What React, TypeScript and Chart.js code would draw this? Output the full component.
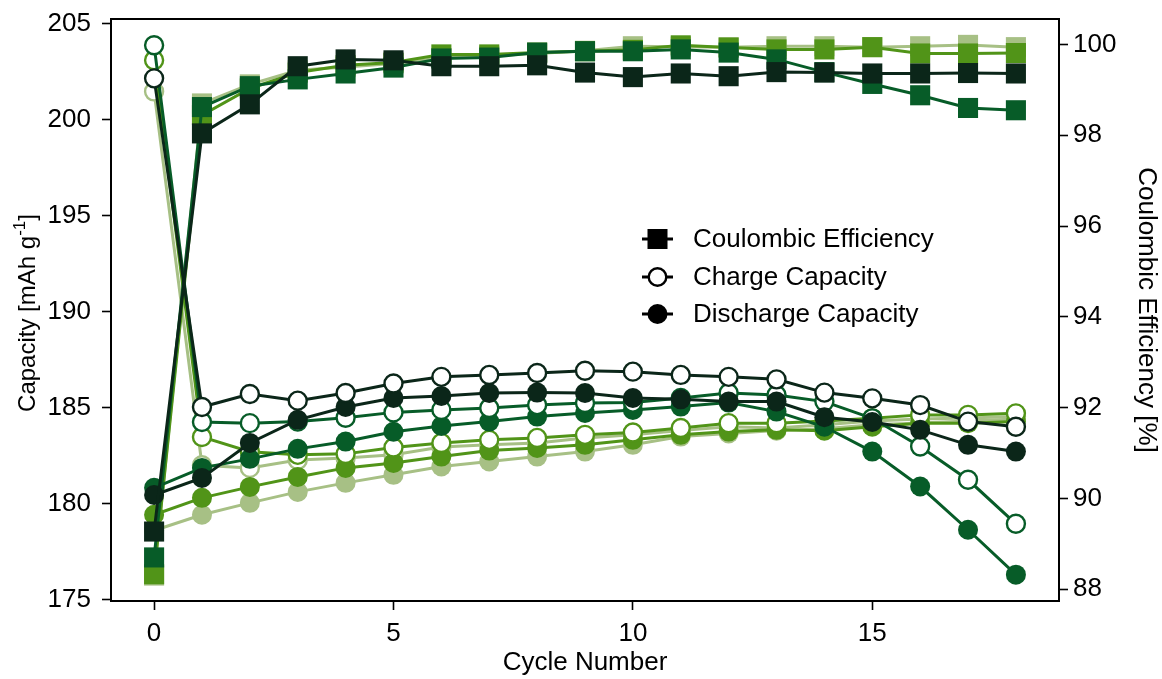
import React, { useEffect, useRef } from 'react';
import { Chart, registerables } from 'chart.js';

Chart.register(...registerables);

const cycles = [0, 1, 2, 3, 4, 5, 6, 7, 8, 9, 10, 11, 12, 13, 14, 15, 16, 17, 18];
const xTicks = [0, 5, 10, 15];
const capTicks = [175, 180, 185, 190, 195, 200, 205];
const ceTicks = [88, 90, 92, 94, 96, 98, 100];

const seriesColors = ['#a7c085', '#519418', '#075c28', '#0b2619'];

// Coulombic efficiency [%]
const ceLight = [88.3, 98.7, 99.12, 99.43, 99.5, 99.58, 99.7, 99.75, 99.8, 99.86, 99.96, 99.95, 99.94, 99.96, 99.96, 99.94, 99.96, 99.99, 99.94];
const ceMedium = [88.33, 98.44, 99.03, 99.38, 99.54, 99.6, 99.78, 99.78, 99.82, 99.85, 99.88, 99.98, 99.93, 99.89, 99.89, 99.94, 99.8, 99.8, 99.81];
const ceDark = [88.7, 98.62, 99.08, 99.23, 99.36, 99.49, 99.69, 99.71, 99.82, 99.85, 99.85, 99.89, 99.82, 99.67, 99.39, 99.13, 98.88, 98.6, 98.55];
const ceDarkest = [89.27, 98.04, 98.68, 99.52, 99.67, 99.65, 99.52, 99.52, 99.54, 99.38, 99.28, 99.36, 99.3, 99.39, 99.38, 99.36, 99.36, 99.37, 99.36];

// Charge capacity [mAh/g]
const chLight = [201.46, 182.0, 181.86, 182.27, 182.38, 182.54, 182.95, 183.06, 183.16, 183.42, 183.58, 183.8, 184.0, 183.94, 184.1, 184.3, 184.4, 184.46, 184.53];
const chMedium = [203.08, 183.47, 182.7, 182.54, 182.59, 182.92, 183.16, 183.32, 183.42, 183.58, 183.7, 183.94, 184.19, 184.19, 184.3, 184.44, 184.62, 184.62, 184.7];
const chDark = [203.86, 184.25, 184.19, 184.27, 184.47, 184.75, 184.88, 184.98, 185.13, 185.24, 185.26, 185.5, 185.76, 185.66, 185.31, 184.44, 182.97, 181.24, 178.95];
const chDarkest = [202.14, 185.03, 185.71, 185.36, 185.76, 186.25, 186.6, 186.7, 186.8, 186.92, 186.87, 186.7, 186.6, 186.47, 185.78, 185.48, 185.13, 184.27, 184.0];

// Discharge capacity [mAh/g]
const dcLight = [178.6, 179.42, 180.04, 180.61, 181.08, 181.5, 181.93, 182.19, 182.45, 182.71, 183.06, 183.49, 183.65, 183.8, 183.9, 184.1, 184.2, 184.3, 184.4];
const dcMedium = [179.42, 180.3, 180.87, 181.39, 181.86, 182.12, 182.45, 182.76, 182.9, 183.06, 183.32, 183.58, 183.75, 183.84, 183.8, 184.0, 184.19, 184.19, 184.27];
const dcDark = [180.82, 181.86, 182.33, 182.85, 183.23, 183.74, 184.04, 184.27, 184.53, 184.72, 184.88, 185.05, 185.26, 184.79, 184.0, 182.71, 180.89, 178.64, 176.3];
const dcDarkest = [180.45, 181.34, 183.16, 184.36, 185.03, 185.5, 185.6, 185.76, 185.78, 185.76, 185.5, 185.43, 185.31, 185.31, 184.5, 184.25, 183.84, 183.06, 182.71];

const legendLabels = ['Coulombic Efficiency', 'Charge Capacity', 'Discharge Capacity'];
const yTitleMain = 'Capacity [mAh g';
const yTitleSup = '-1';
const yTitleEnd = ']';

const FONT = '"Liberation Sans", Arial, Helvetica, sans-serif';
const FS = 26;
const YT_FS = 24;

const toPts = (vals: number[]) => cycles.map((c, i) => ({ x: c, y: vals[i] }));

function makeSets() {
  const ce = [ceLight, ceMedium, ceDark, ceDarkest];
  const ch = [chLight, chMedium, chDark, chDarkest];
  const dc = [dcLight, dcMedium, dcDark, dcDarkest];
  const sets: any[] = [];
  for (let k = 0; k < 4; k++) {
    const col = seriesColors[k];
    const order = 3 - k;
    sets.push({
      label: 'CE ' + k, data: toPts(ce[k]), yAxisID: 'y2', order,
      borderColor: col, backgroundColor: col, borderWidth: 3,
      pointStyle: 'rect', pointRadius: 14.2, pointBorderWidth: 0,
      pointBackgroundColor: col, pointBorderColor: col,
    });
    sets.push({
      label: 'Charge ' + k, data: toPts(ch[k]), yAxisID: 'y', order,
      borderColor: col, backgroundColor: '#ffffff', borderWidth: 3,
      pointStyle: 'circle', pointRadius: 9, pointBorderWidth: 2.4,
      pointBackgroundColor: '#ffffff', pointBorderColor: col,
    });
    sets.push({
      label: 'Discharge ' + k, data: toPts(dc[k]), yAxisID: 'y', order,
      borderColor: col, backgroundColor: col, borderWidth: 3,
      pointStyle: 'circle', pointRadius: 10, pointBorderWidth: 0,
      pointBackgroundColor: col, pointBorderColor: col,
    });
  }
  return sets;
}

const framePlugin = {
  id: 'frameAndLegend',
  afterDraw(chart: any) {
    const { ctx, chartArea } = chart;
    const { left, top, right, bottom } = chartArea;
    ctx.save();
    ctx.strokeStyle = '#000';
    ctx.lineWidth = 2;
    ctx.strokeRect(left, top, right - left, bottom - top);

    // legend
    const rowsY = [239, 277, 314];
    const hx0 = 642, hx1 = 673, hm = 657.5;
    ctx.font = `${FS}px ${FONT}`;
    ctx.textBaseline = 'middle';
    ctx.textAlign = 'left';
    rowsY.forEach((ry, i) => {
      ctx.strokeStyle = '#000';
      ctx.lineWidth = 3;
      ctx.beginPath();
      ctx.moveTo(hx0, ry);
      ctx.lineTo(hx1, ry);
      ctx.stroke();
      if (i === 0) {
        ctx.fillStyle = '#000';
        ctx.fillRect(hm - 10, ry - 10, 20, 20);
      } else if (i === 1) {
        ctx.fillStyle = '#fff';
        ctx.beginPath();
        ctx.arc(hm, ry, 8.8, 0, Math.PI * 2);
        ctx.fill();
        ctx.lineWidth = 2.4;
        ctx.stroke();
      } else {
        ctx.fillStyle = '#000';
        ctx.beginPath();
        ctx.arc(hm, ry, 10, 0, Math.PI * 2);
        ctx.fill();
      }
      ctx.fillStyle = '#000';
      ctx.fillText(legendLabels[i], 693, ry + 1);
    });

    // left axis title with superscript
    const mainFont = `${YT_FS}px ${FONT}`;
    const supFont = `${Math.round(YT_FS * 0.7)}px ${FONT}`;
    ctx.font = mainFont;
    const w1 = ctx.measureText(yTitleMain).width;
    const w3 = ctx.measureText(yTitleEnd).width;
    ctx.font = supFont;
    const w2 = ctx.measureText(yTitleSup).width;
    const total = w1 + w2 + w3;
    ctx.translate(35, 313);
    ctx.rotate(-Math.PI / 2);
    ctx.textBaseline = 'alphabetic';
    ctx.textAlign = 'left';
    ctx.fillStyle = '#000';
    let cx = -total / 2;
    ctx.font = mainFont;
    ctx.fillText(yTitleMain, cx, 0);
    cx += w1;
    ctx.font = supFont;
    ctx.fillText(yTitleSup, cx, -YT_FS * 0.42);
    cx += w2;
    ctx.font = mainFont;
    ctx.fillText(yTitleEnd, cx, 0);
    ctx.restore();
  },
};

const zeroPad = (s: any) => {
  s.paddingTop = 0;
  s.paddingBottom = 0;
  s.paddingLeft = 0;
  s.paddingRight = 0;
};

export default function App() {
  const ref = useRef<HTMLCanvasElement | null>(null);
  useEffect(() => {
    if (!ref.current) return;
    const tickFont = { family: FONT, size: FS };
    const chart = new Chart(ref.current, {
      type: 'line',
      data: { datasets: makeSets() },
      plugins: [framePlugin],
      options: {
        animation: false,
        responsive: false,
        layout: { padding: { top: 19, left: 0, right: 0, bottom: 0 } },
        plugins: { legend: { display: false }, tooltip: { enabled: false } },
        scales: {
          x: {
            type: 'linear', min: -0.9, max: 18.9,
            afterBuildTicks: (s: any) => { s.ticks = xTicks.map((v) => ({ value: v })); },
            afterFit: (s: any) => { s.height = 78; zeroPad(s); },
            border: { display: false },
            grid: { drawOnChartArea: false, drawTicks: true, tickLength: 9, tickWidth: 1.6, tickColor: '#000' },
            ticks: { color: '#000', font: tickFont, padding: 8, maxRotation: 0 },
            title: { display: true, text: 'Cycle Number', color: '#000', font: tickFont, padding: { top: 0, bottom: 1 } },
          },
          y: {
            type: 'linear', position: 'left', min: 174.93, max: 205.23,
            afterBuildTicks: (s: any) => { s.ticks = capTicks.map((v) => ({ value: v })); },
            afterFit: (s: any) => { s.width = 111; zeroPad(s); },
            border: { display: false },
            grid: { drawOnChartArea: false, drawTicks: true, tickLength: 9, tickWidth: 1.6, tickColor: '#000' },
            ticks: { color: '#000', font: tickFont, padding: 11 },
            title: { display: false },
          },
          y2: {
            type: 'linear', position: 'right', min: 87.74, max: 100.56,
            afterBuildTicks: (s: any) => { s.ticks = ceTicks.map((v) => ({ value: v })); },
            afterFit: (s: any) => { s.width = 103; zeroPad(s); },
            border: { display: false },
            grid: { drawOnChartArea: false, drawTicks: true, tickLength: 9, tickWidth: 1.6, tickColor: '#000' },
            ticks: { color: '#000', font: tickFont, padding: 5 },
            title: { display: true, text: 'Coulombic Efficiency [%]', color: '#000', font: tickFont, padding: { top: 0, bottom: 0 } },
          },
        },
      } as any,
    });
    return () => chart.destroy();
  }, []);
  return (
    <div style={{ position: 'fixed', left: 0, top: 0, width: 1162, height: 679, background: '#fff' }}>
      <canvas ref={ref} width={1162} height={679} style={{ display: 'block' }} />
    </div>
  );
}
